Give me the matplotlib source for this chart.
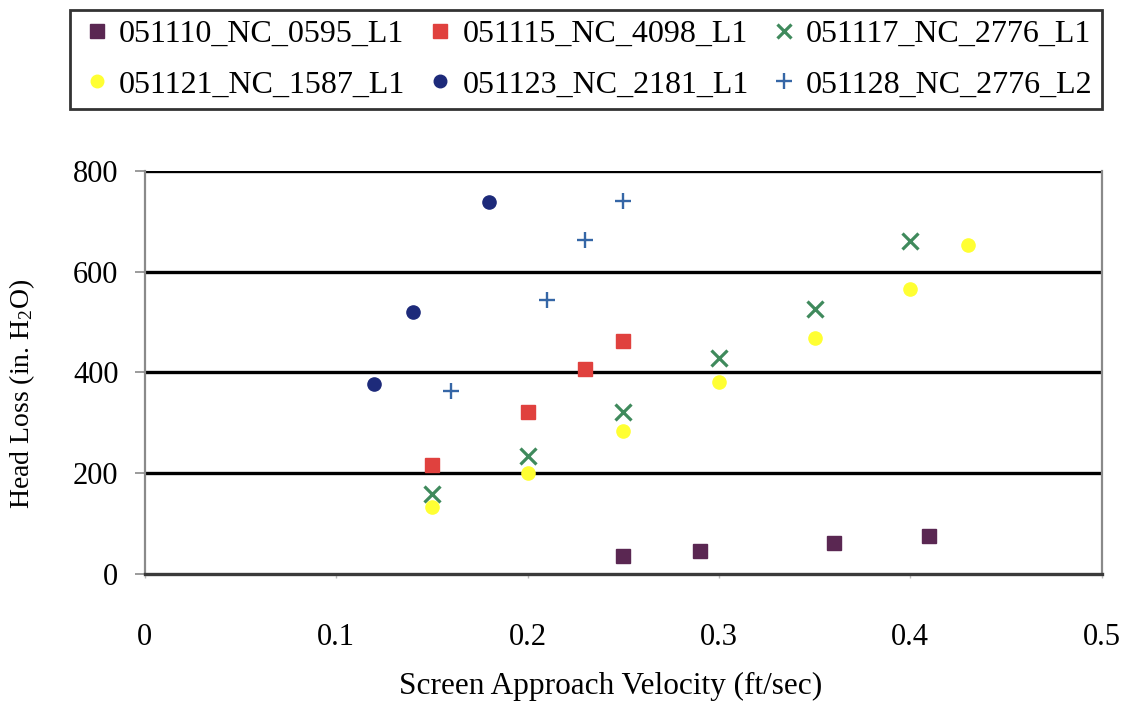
import matplotlib
matplotlib.use("Agg")
import matplotlib.pyplot as plt

plt.rcParams["font.family"] = ["Liberation Serif", "DejaVu Serif"]
plt.rcParams["mathtext.default"] = "regular"

# Test runs: screen approach velocity (ft/sec) vs. head loss (in. H2O)
names = ["051110_NC_0595_L1", "051115_NC_4098_L1", "051117_NC_2776_L1",
         "051121_NC_1587_L1", "051123_NC_2181_L1", "051128_NC_2776_L2"]

vel_0595 = [0.25, 0.29, 0.36, 0.41]
loss_0595 = [35, 46, 62, 75]

vel_4098 = [0.15, 0.20, 0.23, 0.25]
loss_4098 = [217, 321, 406, 463]

vel_2776a = [0.15, 0.20, 0.25, 0.30, 0.35, 0.40]
loss_2776a = [158, 235, 322, 429, 526, 660]

vel_1587 = [0.15, 0.20, 0.25, 0.30, 0.35, 0.40, 0.43]
loss_1587 = [133, 200, 283, 380, 468, 566, 653]

vel_2181 = [0.12, 0.14, 0.18]
loss_2181 = [377, 519, 738]

vel_2776b = [0.16, 0.21, 0.23, 0.25]
loss_2776b = [364, 544, 663, 740]

x_ticks = [0, 0.1, 0.2, 0.3, 0.4, 0.5]
x_tick_labels = ["0", "0.1", "0.2", "0.3", "0.4", "0.5"]
y_ticks = [0, 200, 400, 600, 800]

fig = plt.figure(figsize=(11.23, 7.06), dpi=100)
ax = fig.add_axes([0.129, 0.187, 0.852, 0.571])

h1, = ax.plot(vel_0595, loss_0595, ls="none", marker="s", ms=10.5, color="#5a2752", mec="#5a2752", zorder=3)
h2, = ax.plot(vel_4098, loss_4098, ls="none", marker="s", ms=10.5, color="#e0413e", mec="#e0413e", zorder=3)
h3, = ax.plot(vel_2776a, loss_2776a, ls="none", marker="x", ms=11, mew=2.3, color="#3f8a5c", zorder=3)
h4, = ax.plot(vel_1587, loss_1587, ls="none", marker="o", ms=9.5, color="#ffff33", mec="#ffff33", zorder=3)
h5, = ax.plot(vel_2181, loss_2181, ls="none", marker="o", ms=9.5, color="#1d2a7a", mec="#1d2a7a", zorder=3)
h6, = ax.plot(vel_2776b, loss_2776b, ls="none", marker="+", ms=12, mew=1.7, color="#3566a6", zorder=3)

ax.set_xlim(0, 0.5)
ax.set_ylim(0, 800)
ax.set_xticks(x_ticks)
ax.set_xticklabels(x_tick_labels)
ax.set_yticks(y_ticks)

for y in y_ticks[1:]:
    ax.axhline(y, color="black", lw=2.4, zorder=1)

for side in ["left", "right"]:
    ax.spines[side].set_color("#8a8a8a")
    ax.spines[side].set_linewidth(1.6)
ax.spines["top"].set_visible(False)
ax.spines["bottom"].set_color("#3a3a3a")
ax.spines["bottom"].set_linewidth(2.4)

ax.tick_params(axis="y", direction="out", length=7, width=1.2, color="#8a8a8a",
               labelsize=22, pad=12)
ax.tick_params(axis="x", direction="out", length=3, width=1, color="#bbbbbb",
               labelsize=22, pad=32)

ax.set_xlabel("Screen Approach Velocity (ft/sec)", fontsize=22.5)
ax.xaxis.set_label_coords(0.487, -0.243)
ax.set_ylabel("Head Loss (in. H$_2$O)", fontsize=20, va="center")
ax.yaxis.set_label_coords(-0.1285, 0.447)

handles = [h1, h4, h2, h5, h3, h6]
labels = [names[0], names[3], names[1], names[4], names[2], names[5]]
leg = fig.legend(handles, labels, ncol=3, loc="upper left",
                 bbox_to_anchor=(70 / 1123, 1 - 107 / 706, 1032 / 1123, 97 / 706),
                 mode="expand", fontsize=23, frameon=True, fancybox=False,
                 edgecolor="black", handlelength=1.07, handletextpad=0.16,
                 columnspacing=0.5, borderaxespad=0, labelspacing=0.66,
                 borderpad=0.3, markerscale=0.95)
leg.get_frame().set_linewidth(2)

fig.savefig("out.png", dpi=100, facecolor="white")
